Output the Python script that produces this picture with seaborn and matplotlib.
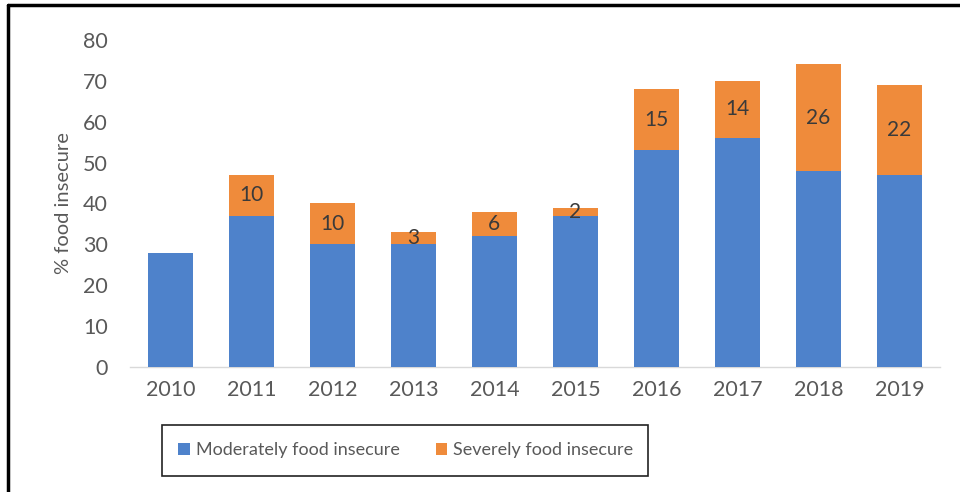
import matplotlib
matplotlib.use("Agg")
import matplotlib.pyplot as plt
from matplotlib.lines import Line2D
from matplotlib.patches import Patch, Rectangle
import seaborn as sns
import pandas as pd

years = ["2010", "2011", "2012", "2013", "2014", "2015", "2016", "2017", "2018", "2019"]
moderate = [28, 37, 30, 30, 32, 37, 53, 56, 48, 47]
severe = [0, 10, 10, 3, 6, 2, 15, 14, 26, 22]

blue = "#4E82CB"
orange = "#EF8B3B"
grey = "#595959"

sns.set_theme(style="white")
plt.rcParams["font.family"] = ["Lato", "DejaVu Sans"]

df = pd.DataFrame({"year": years, "moderate": moderate, "severe": severe})
df["total"] = df["moderate"] + df["severe"]

fig = plt.figure(figsize=(9.6, 4.92), dpi=100)
ax = fig.add_axes([0.1354, 0.254, 0.8436, 0.665])

# stacked bars: full height in orange, moderate share drawn over it in blue
sns.barplot(data=df, x="year", y="total", color=orange, width=0.55,
            saturation=1, linewidth=0, ax=ax, zorder=2)
sns.barplot(data=df, x="year", y="moderate", color=blue, width=0.55,
            saturation=1, linewidth=0, ax=ax, zorder=3)

for i, (m, s) in enumerate(zip(moderate, severe)):
    if s > 0:
        ax.text(i, m + s / 2, str(s), ha="center", va="center",
                fontsize=15, color="#3A3A3A", zorder=4)

ax.set_xlim(-0.5, len(years) - 0.5)
ax.set_ylim(0, 80)
ax.set_yticks(range(0, 81, 10))
ax.set_xlabel("")
ax.set_ylabel("% food insecure", fontsize=14.5, color=grey, labelpad=8)
ax.tick_params(axis="y", length=0, pad=16, labelsize=15.5, labelcolor=grey)
ax.tick_params(axis="x", length=0, pad=9, labelsize=15.5, labelcolor=grey)

for side in ["top", "right", "left"]:
    ax.spines[side].set_visible(False)
ax.spines["bottom"].set_color("#D9D9D9")
ax.spines["bottom"].set_linewidth(1)

handles = [Patch(facecolor=blue, edgecolor="none", label="Moderately food insecure"),
           Patch(facecolor=orange, edgecolor="none", label="Severely food insecure")]
leg = fig.legend(handles=handles, loc="center", bbox_to_anchor=(0.4225, 0.085),
                 ncol=2, fontsize=13, frameon=False,
                 handlelength=0.65, handleheight=0.65, handletextpad=0.3,
                 columnspacing=2.0, labelcolor=grey)

# legend box outline
fig.add_artist(Rectangle((0.169, 0.033), 0.506, 0.104, fill=False,
                         edgecolor="#222222", linewidth=1.2,
                         transform=fig.transFigure))

# frame lines along the top and left of the figure
fig.add_artist(Line2D([0.0085, 1.0], [0.99, 0.99], color="black", lw=2.5,
                      transform=fig.transFigure))
fig.add_artist(Line2D([0.0085, 0.0085], [0.0, 0.99], color="black", lw=2.5,
                      transform=fig.transFigure))

fig.savefig("out.png", dpi=100)
